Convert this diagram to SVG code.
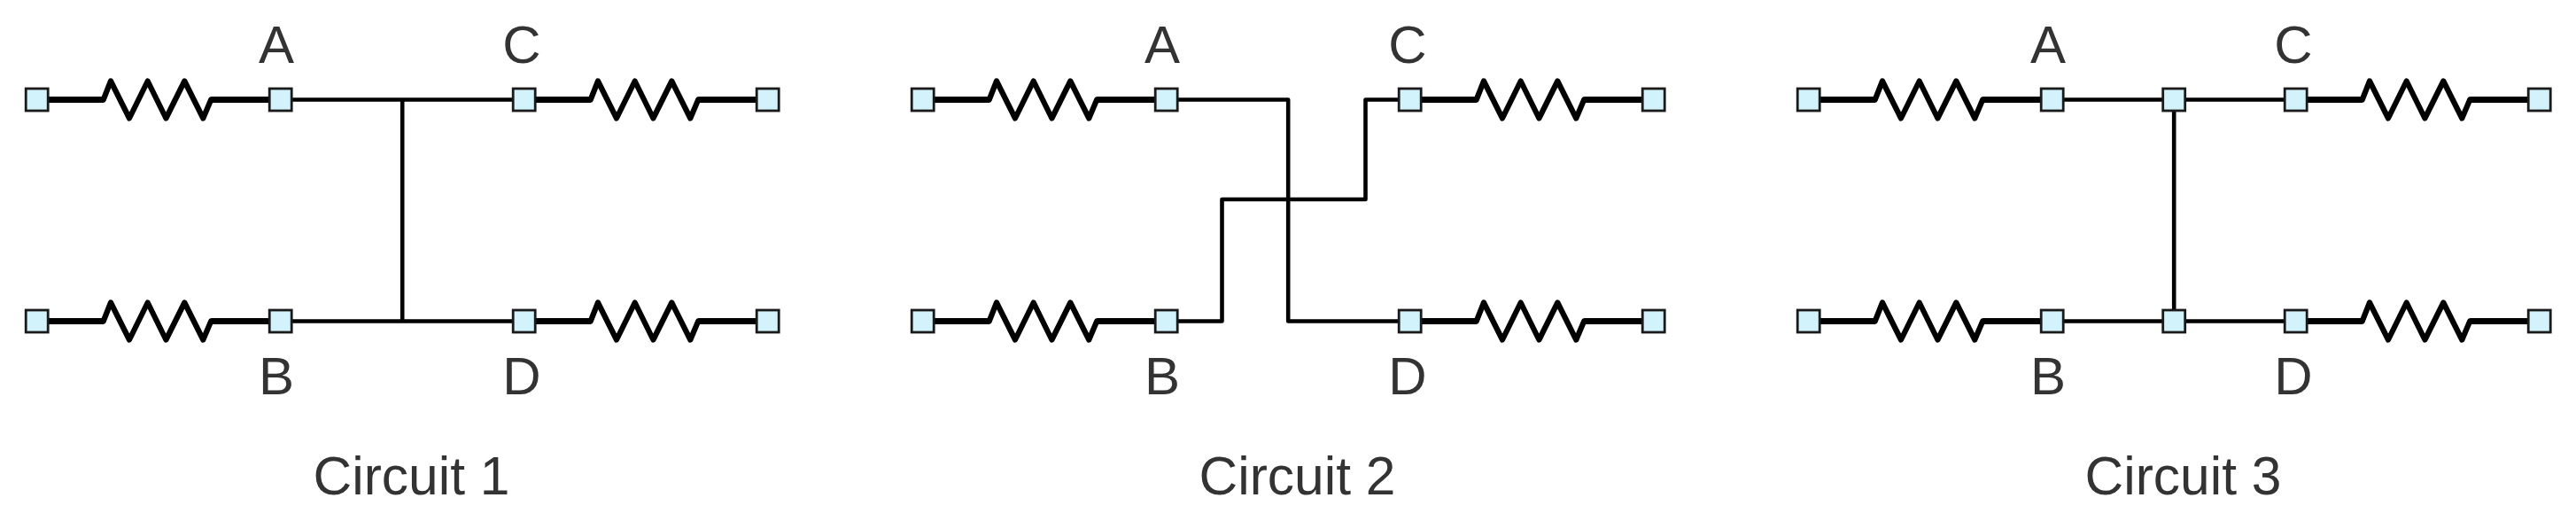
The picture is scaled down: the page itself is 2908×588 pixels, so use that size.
<svg xmlns="http://www.w3.org/2000/svg" xmlns:xlink="http://www.w3.org/1999/xlink" width="2908" height="588" viewBox="0 0 2908 588">
<style>
text{font-family:"Liberation Sans",Arial,sans-serif;font-size:60px;fill:#333;text-anchor:middle}
text.t{font-size:60.500px}
.w{fill:none;stroke:#000;stroke-width:4.6;stroke-linejoin:round;stroke-linecap:square}
.r{fill:none;stroke:#000;stroke-width:6.2;stroke-linejoin:round;stroke-linecap:round}
.l{fill:none;stroke:#000;stroke-width:6.8;stroke-linecap:butt}
.n{fill:#d2f3fb;stroke:#1a1a1a;stroke-width:2.8}
</style>
<defs>
<g id="res">
<path class="l" d="M0 0H75M196.500 0H275"/>
<path class="r" d="M75 0L83.300 -21L104.300 21L125 -21L145.700 21L166.600 -21L187.600 21L196.500 0"/>
</g>
<rect id="pad" class="n" x="-12.500" y="-12.500" width="25" height="25"/>
</defs>
<g id="connectors">
<use href="#res" x="41.700" y="112.500"/><use href="#res" x="41.700" y="362.500"/><use href="#res" x="591.700" y="112.500"/><use href="#res" x="591.700" y="362.500"/>
<path class="w" d="M316.700 112.500H591.700M316.700 362.500H591.700M454.200 112.500V362.500"/>
<use href="#res" x="1041.700" y="112.500"/><use href="#res" x="1041.700" y="362.500"/><use href="#res" x="1591.700" y="112.500"/><use href="#res" x="1591.700" y="362.500"/>
<path class="w" d="M1316.700 112.500H1454.200V362.500H1591.700M1316.700 362.500H1379.500V225H1541.500V112.500H1591.700"/>
<use href="#res" x="2041.700" y="112.500"/><use href="#res" x="2041.700" y="362.500"/><use href="#res" x="2591.700" y="112.500"/><use href="#res" x="2591.700" y="362.500"/>
<path class="w" d="M2316.700 112.500H2591.700M2316.700 362.500H2591.700M2454.200 112.500V362.500"/>
</g>
<g id="circuit1">
<use id="c1-t1" href="#pad" x="41.700" y="112.500"/><use id="c1-a" href="#pad" x="316.700" y="112.500"/><use id="c1-c" href="#pad" x="591.700" y="112.500"/><use id="c1-t2" href="#pad" x="866.700" y="112.500"/>
<use id="c1-t3" href="#pad" x="41.700" y="362.500"/><use id="c1-b" href="#pad" x="316.700" y="362.500"/><use id="c1-d" href="#pad" x="591.700" y="362.500"/><use id="c1-t4" href="#pad" x="866.700" y="362.500"/>
<text x="312" y="71">A</text><text x="589" y="71">C</text><text x="312" y="445">B</text><text x="589" y="445">D</text><text class="t" x="464.500" y="557.500">Circuit 1</text>
</g>
<g id="circuit2">
<use id="c2-t1" href="#pad" x="1041.700" y="112.500"/><use id="c2-a" href="#pad" x="1316.700" y="112.500"/><use id="c2-c" href="#pad" x="1591.700" y="112.500"/><use id="c2-t2" href="#pad" x="1866.700" y="112.500"/>
<use id="c2-t3" href="#pad" x="1041.700" y="362.500"/><use id="c2-b" href="#pad" x="1316.700" y="362.500"/><use id="c2-d" href="#pad" x="1591.700" y="362.500"/><use id="c2-t4" href="#pad" x="1866.700" y="362.500"/>
<text x="1312" y="71">A</text><text x="1589" y="71">C</text><text x="1312" y="445">B</text><text x="1589" y="445">D</text><text class="t" x="1464.500" y="557.500">Circuit 2</text>
</g>
<g id="circuit3">
<use id="c3-t1" href="#pad" x="2041.700" y="112.500"/><use id="c3-a" href="#pad" x="2316.700" y="112.500"/><use id="c3-m1" href="#pad" x="2454.200" y="112.500"/><use id="c3-c" href="#pad" x="2591.700" y="112.500"/><use id="c3-t2" href="#pad" x="2866.700" y="112.500"/>
<use id="c3-t3" href="#pad" x="2041.700" y="362.500"/><use id="c3-b" href="#pad" x="2316.700" y="362.500"/><use id="c3-m2" href="#pad" x="2454.200" y="362.500"/><use id="c3-d" href="#pad" x="2591.700" y="362.500"/><use id="c3-t4" href="#pad" x="2866.700" y="362.500"/>
<text x="2312" y="71">A</text><text x="2589" y="71">C</text><text x="2312" y="445">B</text><text x="2589" y="445">D</text><text class="t" x="2464.500" y="557.500">Circuit 3</text>
</g>
</svg>
